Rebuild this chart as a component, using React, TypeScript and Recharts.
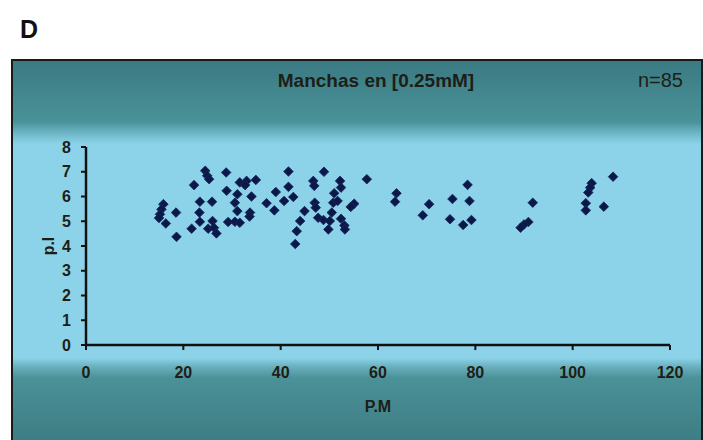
import React from 'react';
import { ScatterChart, Scatter, XAxis, YAxis, Label } from 'recharts';

const pmValues = [
  24.5, 24.9, 25.3, 28.8, 22.2, 31.6, 33.0, 32.7, 34.9, 28.9, 31.1, 34.0,
  23.4, 25.9, 30.6, 31.1, 15.9, 15.5, 15.2, 18.5, 23.3, 33.7, 33.6, 16.4,
  23.4, 26.0, 29.2, 30.6, 31.6, 21.7, 25.1, 26.3, 26.8, 18.6, 15.0,
  41.6, 48.9, 57.7, 46.7, 46.9, 52.2, 52.4, 41.6, 39.0, 51.0, 42.6, 40.7,
  37.1, 47.0, 50.8, 51.7, 55.1, 54.4, 47.2, 38.7, 44.9, 50.5, 44.0, 47.7,
  48.8, 50.1, 52.4, 53.1, 53.2, 49.8, 43.3, 43.0,
  63.8, 63.5, 69.2, 70.5, 75.3, 74.8, 78.4, 78.8, 79.2, 77.5, 91.8, 90.9,
  90.0, 89.3, 103.9, 103.6, 103.2, 102.7, 102.7, 106.4, 108.3,
];
const piValues = [
  7.04, 6.84, 6.7, 6.97, 6.46, 6.57, 6.63, 6.46, 6.67, 6.23, 6.09, 6.0,
  5.79, 5.79, 5.75, 5.41, 5.69, 5.48, 5.28, 5.35, 5.35, 5.35, 5.19, 4.91,
  4.98, 5.01, 4.97, 4.98, 4.94, 4.7, 4.7, 4.74, 4.51, 4.37, 5.13,
  7.01, 7.0, 6.7, 6.63, 6.43, 6.63, 6.36, 6.39, 6.18, 6.13, 5.98, 5.82,
  5.73, 5.75, 5.75, 5.82, 5.71, 5.58, 5.55, 5.44, 5.41, 5.35, 5.01, 5.14,
  5.05, 5.01, 5.1, 4.83, 4.67, 4.67, 4.6, 4.08,
  6.13, 5.79, 5.24, 5.69, 5.9, 5.08, 6.47, 5.82, 5.05, 4.85, 5.75, 4.97,
  4.87, 4.74, 6.54, 6.36, 6.16, 5.73, 5.44, 5.59, 6.8,
];
const xTicks = [0, 20, 40, 60, 80, 100, 120];
const yTicks = [0, 1, 2, 3, 4, 5, 6, 7, 8];
const panelLetter = 'D';
const titleText = 'Manchas en [0.25mM]';
const nText = 'n=85';
const xLabel = 'P.M';
const yLabel = 'p.I';

const data = pmValues.map((pm, i) => ({ pm, pi: piValues[i] }));

const FONT = "'Liberation Sans', Arial, sans-serif";
const INK = '#1e1e16';

const Diamond = (props: any) => {
  const { cx, cy } = props;
  if (cx == null || cy == null) return null;
  const r = 4.8;
  return (
    <path
      d={`M${cx},${cy - r}L${cx + r},${cy}L${cx},${cy + r}L${cx - r},${cy}Z`}
      fill="#0c1848"
      stroke="#16275e"
      strokeWidth={0.8}
    />
  );
};

const frameTop = 59;
const bg = `linear-gradient(to bottom,
  #3b7a82 0px,
  #4a9299 ${120 - frameTop}px,
  #6db6c6 ${131 - frameTop}px,
  #8cd3ea ${142 - frameTop}px,
  #8cd3ea ${356 - frameTop}px,
  #6cb2c0 ${364 - frameTop}px,
  #4b9198 ${376 - frameTop}px,
  #3c7b81 ${445 - frameTop}px)`;

export default function App() {
  return (
    <div style={{ position: 'absolute', left: 0, top: 0, width: 703, height: 440, overflow: 'hidden', background: '#fff' }}>
      <div
        style={{
          position: 'absolute',
          left: 20,
          top: 17,
          fontFamily: FONT,
          fontWeight: 'bold',
          fontSize: 25,
          lineHeight: '25px',
          color: '#111',
        }}
      >
        {panelLetter}
      </div>
      <div
        style={{
          position: 'absolute',
          left: 11,
          top: frameTop,
          width: 688,
          height: 400,
          borderLeft: '2px solid #1a1a1a',
          borderTop: '2px solid #1a1a1a',
          borderRight: '2px solid #1a1a1a',
          background: bg,
        }}
      />
      <div
        style={{
          position: 'absolute',
          left: 226,
          width: 300,
          top: 70,
          textAlign: 'center',
          fontFamily: FONT,
          fontWeight: 'bold',
          fontSize: 19,
          lineHeight: '22px',
          color: INK,
        }}
      >
        {titleText}
      </div>
      <div
        style={{
          position: 'absolute',
          right: 20,
          top: 69,
          fontFamily: FONT,
          fontSize: 20,
          lineHeight: '22px',
          color: INK,
        }}
      >
        {nText}
      </div>
      <ScatterChart
        width={703}
        height={440}
        margin={{ top: 147, right: 33, left: 0, bottom: 0 }}
        style={{ position: 'absolute', left: 0, top: 0 }}
      >
        <XAxis
          type="number"
          dataKey="pm"
          domain={[0, 120]}
          ticks={xTicks}
          interval={0}
          height={95}
          axisLine={{ stroke: '#111', strokeWidth: 2.5 }}
          tickLine={{ stroke: '#111', strokeWidth: 2 }}
          tickSize={5}
          tickMargin={17}
          tick={{ fontSize: 16, fontWeight: 'bold', fill: INK, fontFamily: FONT }}
        >
          <Label
            value={xLabel}
            position="insideBottom"
            offset={28}
            style={{ fontSize: 16, fontWeight: 'bold', fill: INK, fontFamily: FONT }}
          />
        </XAxis>
        <YAxis
          type="number"
          dataKey="pi"
          domain={[0, 8]}
          ticks={yTicks}
          interval={0}
          width={86}
          axisLine={{ stroke: '#111', strokeWidth: 2.5 }}
          tickLine={{ stroke: '#111', strokeWidth: 2 }}
          tickSize={5}
          tickMargin={10}
          tick={{ fontSize: 16, fontWeight: 'bold', fill: INK, fontFamily: FONT }}
        >
          <Label
            value={yLabel}
            angle={-90}
            position="center"
            dx={5}
            style={{ fontSize: 16, fontWeight: 'bold', fill: INK, fontFamily: FONT, textAnchor: 'middle' }}
          />
        </YAxis>
        <Scatter data={data} shape={<Diamond />} isAnimationActive={false} />
      </ScatterChart>
    </div>
  );
}
